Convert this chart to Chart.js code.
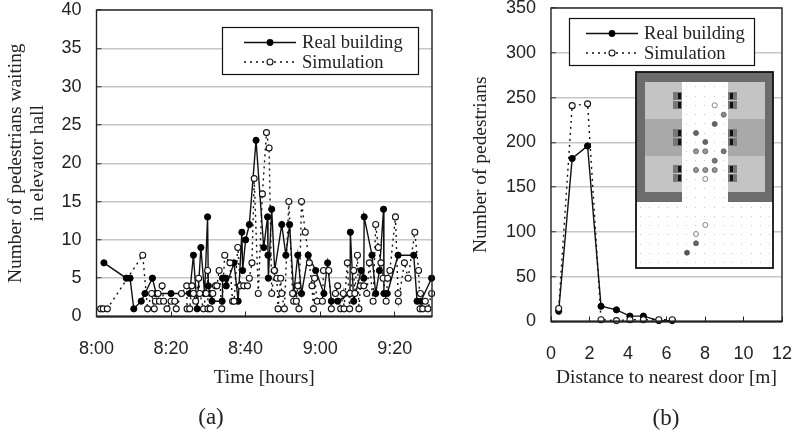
<!DOCTYPE html>
<html><head><meta charset="utf-8">
<script src="https://cdn.jsdelivr.net/npm/chart.js@4"></script>
<style>
html,body{margin:0;padding:0;background:#fff;width:792px;height:434px;overflow:hidden}
canvas{position:absolute;display:block}
.cap{position:absolute;font:23px "Liberation Serif",serif;color:#222;transform:translateX(-50%);line-height:23px;white-space:nowrap}
</style></head><body>
<canvas id="a" width="470" height="444" style="left:0;top:-10px"></canvas>
<canvas id="b" width="322" height="444" style="left:470px;top:-10px"></canvas>
<div class="cap" style="left:211px;top:405px">(a)</div>
<div class="cap" style="left:666px;top:406px">(b)</div>
<script>
const seriesLabels = ['Real building','Simulation'];
const timeLabels = {0:'8:00',20:'8:20',40:'8:40',60:'9:00',80:'9:20'};
const realMinutes = [2,8,9,10,12,13,15,16,20,25,26,27,28,29,29.8,30,30.5,31,33.7,33.8,34.7,34.8,36.9,38,39,39.2,40,41,42.8,44.85,45.9,46,46.1,47,47.8,49.7,50.8,51.8,52.9,54,55,56.8,58.8,61,62,63,64.7,68,68.1,69,71,71.7,71.8,73.9,74.9,75.9,77,77.1,78,80.9,85.1,86,87,89.9];
const realCounts  = [7,5,5,1,2,3,5,3,3,3,8,1,9,3,13,4,3,2,2,5,5,4,7,2,11,6,10,12,23,9,13,8,5,14,6,12,8,12,3,8,3,8,6,3,7,2,2,3,11,2,6,5,13,8,3,6,14,3,3,8,8,2,2,5];
const simMinutes = [1.1,1.8,2.9,12.4,13.7,14.8,15.5,15.8,16.5,16.9,17.6,18,18.9,20,21,21.4,22.8,24.2,24.3,25,25.6,26,26.6,27.4,27.7,28.7,29.4,29.8,29.9,30.5,31.2,31.9,32.3,32.9,33.6,34.4,35.8,36.5,36.9,37.9,38.6,39.5,40.5,41,41.7,42.3,43.4,44.5,45.6,46.3,47,47.7,48.4,48.7,49.4,49.7,50.4,51.6,52.6,52.9,53.6,54,54.3,55,56,57.1,57.8,58.2,58.5,59.2,60.6,60.9,62.3,63,64.1,64.7,65.5,66.2,66.4,67.3,67.9,68,69,69.3,70,70.4,70.8,71.7,72.5,73.2,74.2,74.9,75.6,76.3,76.9,77.7,78.1,78.7,80.2,80.9,81,82.6,83.6,85.4,86.4,86.8,86.9,87.5,88.2,88.9,89.9];
const simCounts  = [1,1,1,8,1,3,1,2,3,2,4,2,1,2,2,1,3,4,1,1,4,3,2,5,3,1,3,6,1,1,3,4,4,6,1,8,7,2,2,9,4,4,4,5,7,18,3,16,24,22,3,6,5,1,5,3,1,15,3,2,2,4,1,15,11,7,4,1,5,2,2,6,6,1,3,4,1,3,1,7,1,3,6,3,8,1,4,4,3,7,2,12,9,7,5,2,5,6,13,3,2,7,5,11,6,1,3,1,2,1,3];
const distances = [0.4,1.1,1.9,2.6,3.4,4.1,4.8,5.6,6.3];
const realPeds  = [11.5,182,196,17,13,6,6,1,1];
const simPeds   = [14.5,241,243,2,1,2,2,2,2];

const xy = (xs,ys)=>xs.map((x,i)=>({x,y:ys[i]}));
const INK='#222';
function realSet(d){return {label:seriesLabels[0],data:d,showLine:true,order:1,clip:false,borderColor:'#111',borderWidth:1.4,backgroundColor:'#000',pointBackgroundColor:'#000',pointBorderColor:'#000',pointRadius:3.1,pointBorderWidth:1,tension:0};}
function simSet(d){return {label:seriesLabels[1],data:d,showLine:true,order:0,clip:false,borderColor:'#111',borderWidth:1.4,borderDash:[2,4],backgroundColor:'#fff',pointBackgroundColor:'#fff',pointBorderColor:'#111',pointRadius:3,pointBorderWidth:1.1,tension:0};}

function legendPlugin(x0,y0,x1,y1,left){return {id:'boxLegend',afterDraw(c){const g=c.ctx;g.save();
  g.fillStyle='#fff';g.fillRect(x0,y0,x1-x0,y1-y0);g.strokeStyle='#111';g.lineWidth=1.2;g.strokeRect(x0+.5,y0+.5,x1-x0,y1-y0);
  g.font='18.6px "Liberation Serif",serif';g.fillStyle=INK;g.textBaseline='alphabetic';
  const ly1=y0+15.5, ly2=y0+35;
  g.strokeStyle='#111';g.lineWidth=1.4;g.beginPath();g.moveTo(left,ly1);g.lineTo(left+52,ly1);g.stroke();
  g.setLineDash([2,4]);g.beginPath();g.moveTo(left,ly2);g.lineTo(left+52,ly2);g.stroke();g.setLineDash([]);
  g.fillStyle='#000';g.beginPath();g.arc(left+26,ly1,3.4,0,7);g.fill();
  g.fillStyle='#fff';g.lineWidth=1.1;g.beginPath();g.arc(left+26,ly2,3,0,7);g.fill();g.stroke();
  g.fillStyle=INK;g.fillText(seriesLabels[0],left+58,y0+21);g.fillText(seriesLabels[1],left+58,y0+41);
  g.restore();}};}
const framePlugin={id:'frame',afterDatasetsDraw(c){const g=c.ctx,a=c.chartArea;g.save();g.strokeStyle='#222';g.lineWidth=1.4;
  g.strokeRect(a.left,a.top,a.right-a.left,a.bottom-a.top);
  g.lineWidth=1.8;g.beginPath();g.moveTo(a.left,a.bottom);g.lineTo(a.right,a.bottom);g.stroke();g.restore();}};

// floor-plan illustration inside panel (b)
const insetPlugin={id:'inset',afterDraw(c){const g=c.ctx,ox=-470,oy=10;g.save();g.translate(ox,oy);
  const R=(col,x,y,w,h)=>{g.fillStyle=col;g.fillRect(x,y,w,h);};
  R('#fff',636,72,137,196);R('#6c6c6c',636,72,137,130);
  R('#c4c4c4',645,82,120,37);R('#a9a9a9',645,119,120,37);R('#c4c4c4',645,156,120,36);
  R('#fff',682,82,46,120);
  g.fillStyle='#c9c9c9';
  for(let i=0;i<15;i++)for(let j=0;j<21;j++){const x=639.5+i*9.25,y=77+j*9.25;if(y>82&&(x>=682&&x<728||y>202))g.fillRect(Math.round(x),Math.round(y),1,1);}
  [[92,101],[129,138],[165,174]].forEach(p=>p.forEach(y=>{[[673,1],[728,-1]].forEach(([x,s])=>{
    R('#777',x,y,9,8);g.fillStyle='#111';g.fillRect(x+(s>0?5:2),y+1,3,6);});}));
  [[714.7,105.3,0],[723.7,114.7,'#8a8a8a'],[714.7,124,'#666'],[696,133,'#666'],[705.3,142,'#666'],[696,151.3,'#999'],[705.3,151.3,'#999'],[723.7,151.3,'#777'],[714.7,160.7,'#777'],[696,170,'#999'],[705.3,170,'#999'],[714.7,170,'#999'],[705.3,179,0],[705.3,225,0],[696,234,0],[696,243.3,'#666'],[687,252.7,'#555']].forEach(([x,y,col])=>{
    g.beginPath();g.arc(x,y,2.5,0,7);g.fillStyle=col||'#fff';g.fill();g.lineWidth=.8;g.strokeStyle=col?'#555':'#666';g.stroke();});
  g.strokeStyle='#111';g.lineWidth=1.8;g.strokeRect(636,72,137,196);g.restore();}};

function zeroPad(s){s.paddingTop=0;s.paddingBottom=0;s.paddingLeft=0;s.paddingRight=0;}
function opts(xcfg,ycfg,xTitle,yTitle,yw,right,top,ytitlePad,xh){
  const titleFont={family:'"Liberation Serif",serif',size:19.4,lineHeight:1.13};
  return {responsive:false,animation:false,events:[],
   layout:{padding:{top,right,bottom:0,left:0}},
   plugins:{legend:{display:false},tooltip:{enabled:false}},
   scales:{
    x:Object.assign({type:'linear',border:{display:false},
      grid:{drawOnChartArea:false,drawTicks:true,tickLength:-5,color:'#222',tickColor:'#222',tickWidth:1},
      title:{display:true,text:xTitle,font:titleFont,color:INK,padding:{top:0,bottom:45}},
      afterFit(s){s.height=xh;zeroPad(s);}},xcfg),
    y:Object.assign({type:'linear',border:{display:false},
      grid:{color:'#c6c6c6',lineWidth:1.5,drawTicks:true,tickLength:-5,tickColor:'#333',tickWidth:1},
      title:{display:true,text:yTitle,font:titleFont,color:INK,padding:{top:ytitlePad,bottom:0}},
      afterFit(s){s.width=yw;zeroPad(s);}},ycfg)
   }};
}
const tf={family:'"Liberation Sans",sans-serif',size:18};
new Chart(document.getElementById('a'),{type:'scatter',
 data:{datasets:[realSet(xy(realMinutes,realCounts)),simSet(xy(simMinutes,simCounts))]},
 options:opts({min:0,max:90,afterBuildTicks(s){s.ticks=s.ticks.filter(t=>timeLabels[t.value]);},
     ticks:{stepSize:20,padding:27,color:INK,font:tf,maxRotation:0,callback:v=>timeLabels[v]||''}},
   {min:0,max:40,ticks:{stepSize:5,padding:20,color:INK,font:tf}},
   'Time [hours]',['Number of pedestrians waiting','in elevator hall'],96.5,38,20,5,117.5),
 plugins:[framePlugin,legendPlugin(222,37,418,84,244)]});
new Chart(document.getElementById('b'),{type:'scatter',
 data:{datasets:[realSet(xy(distances,realPeds)),simSet(xy(distances,simPeds))]},
 options:opts({min:0,max:12,ticks:{stepSize:2,padding:27,color:INK,font:tf,maxRotation:0}},
   {min:0,max:350,ticks:{stepSize:50,padding:20,color:INK,font:tf}},
   'Distance to nearest door [m]','Number of pedestrians',81,10,18,0,112.5),
 plugins:[framePlugin,insetPlugin,legendPlugin(99,28,284,75,116)]});
</script>
</body></html>
